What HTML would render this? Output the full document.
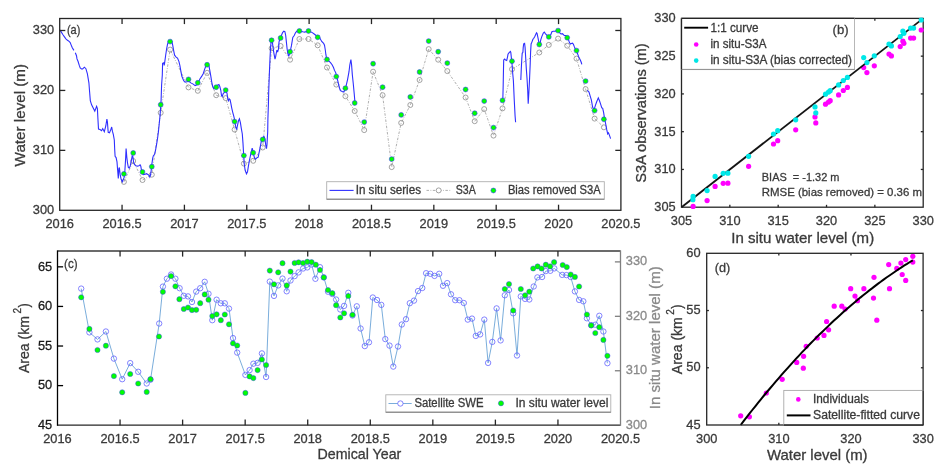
<!DOCTYPE html>
<html><head><meta charset="utf-8"><style>
html,body{margin:0;padding:0;background:#fff;overflow:hidden;width:947px;height:473px;}
svg{display:block;font-family:"Liberation Sans", sans-serif;will-change:transform;}
text{stroke-width:0.3px;}
</style></head><body>
<svg width="947" height="473" viewBox="0 0 947 473">
<rect width="947" height="473" fill="#fff"/>
<g id="pa">
<polyline points="123.9,181.9 133.2,161.0 142.5,180.0 151.8,174.7 160.7,112.8 170.1,49.6 188.5,87.4 197.8,90.8 207.1,72.8 216.2,95.2 225.7,98.1 234.6,129.6 243.9,163.6 253.2,160.8 262.7,147.5 271.6,48.3 280.6,46.0 290.1,59.7 299.4,39.0 308.5,39.0 317.7,45.3 327.0,67.5 336.3,84.6 345.4,96.2 354.7,111.0 364.2,130.1 373.1,71.7 382.6,95.2 391.7,167.1 401.2,122.9 410.3,105.0 419.6,80.0 428.7,49.1 438.2,59.7 447.3,71.1 465.6,97.5 474.7,121.2 484.2,109.1 493.5,135.6 502.5,108.4 512.0,69.2 539.3,52.5 548.8,44.9 558.1,38.6 567.2,45.7 576.5,58.6 585.6,89.1 594.6,118.6 603.9,127.3" fill="none" stroke="#9a9a9a" stroke-width="0.8" stroke-linejoin="miter" stroke-dasharray="2.5,1.5,0.8,1.5"/>
<circle cx="123.90" cy="181.90" r="2.5" fill="none" stroke="#8c8c8c" stroke-width="0.8"/>
<circle cx="133.20" cy="161.00" r="2.5" fill="none" stroke="#8c8c8c" stroke-width="0.8"/>
<circle cx="142.50" cy="180.00" r="2.5" fill="none" stroke="#8c8c8c" stroke-width="0.8"/>
<circle cx="151.80" cy="174.70" r="2.5" fill="none" stroke="#8c8c8c" stroke-width="0.8"/>
<circle cx="160.70" cy="112.80" r="2.5" fill="none" stroke="#8c8c8c" stroke-width="0.8"/>
<circle cx="170.10" cy="49.60" r="2.5" fill="none" stroke="#8c8c8c" stroke-width="0.8"/>
<circle cx="188.50" cy="87.40" r="2.5" fill="none" stroke="#8c8c8c" stroke-width="0.8"/>
<circle cx="197.80" cy="90.80" r="2.5" fill="none" stroke="#8c8c8c" stroke-width="0.8"/>
<circle cx="207.10" cy="72.80" r="2.5" fill="none" stroke="#8c8c8c" stroke-width="0.8"/>
<circle cx="216.20" cy="95.20" r="2.5" fill="none" stroke="#8c8c8c" stroke-width="0.8"/>
<circle cx="225.70" cy="98.10" r="2.5" fill="none" stroke="#8c8c8c" stroke-width="0.8"/>
<circle cx="234.60" cy="129.60" r="2.5" fill="none" stroke="#8c8c8c" stroke-width="0.8"/>
<circle cx="243.90" cy="163.60" r="2.5" fill="none" stroke="#8c8c8c" stroke-width="0.8"/>
<circle cx="253.20" cy="160.80" r="2.5" fill="none" stroke="#8c8c8c" stroke-width="0.8"/>
<circle cx="262.70" cy="147.50" r="2.5" fill="none" stroke="#8c8c8c" stroke-width="0.8"/>
<circle cx="271.60" cy="48.30" r="2.5" fill="none" stroke="#8c8c8c" stroke-width="0.8"/>
<circle cx="280.60" cy="46.00" r="2.5" fill="none" stroke="#8c8c8c" stroke-width="0.8"/>
<circle cx="290.10" cy="59.70" r="2.5" fill="none" stroke="#8c8c8c" stroke-width="0.8"/>
<circle cx="299.40" cy="39.00" r="2.5" fill="none" stroke="#8c8c8c" stroke-width="0.8"/>
<circle cx="308.50" cy="39.00" r="2.5" fill="none" stroke="#8c8c8c" stroke-width="0.8"/>
<circle cx="317.70" cy="45.30" r="2.5" fill="none" stroke="#8c8c8c" stroke-width="0.8"/>
<circle cx="327.00" cy="67.50" r="2.5" fill="none" stroke="#8c8c8c" stroke-width="0.8"/>
<circle cx="336.30" cy="84.60" r="2.5" fill="none" stroke="#8c8c8c" stroke-width="0.8"/>
<circle cx="345.40" cy="96.20" r="2.5" fill="none" stroke="#8c8c8c" stroke-width="0.8"/>
<circle cx="354.70" cy="111.00" r="2.5" fill="none" stroke="#8c8c8c" stroke-width="0.8"/>
<circle cx="364.20" cy="130.10" r="2.5" fill="none" stroke="#8c8c8c" stroke-width="0.8"/>
<circle cx="373.10" cy="71.70" r="2.5" fill="none" stroke="#8c8c8c" stroke-width="0.8"/>
<circle cx="382.60" cy="95.20" r="2.5" fill="none" stroke="#8c8c8c" stroke-width="0.8"/>
<circle cx="391.70" cy="167.10" r="2.5" fill="none" stroke="#8c8c8c" stroke-width="0.8"/>
<circle cx="401.20" cy="122.90" r="2.5" fill="none" stroke="#8c8c8c" stroke-width="0.8"/>
<circle cx="410.30" cy="105.00" r="2.5" fill="none" stroke="#8c8c8c" stroke-width="0.8"/>
<circle cx="419.60" cy="80.00" r="2.5" fill="none" stroke="#8c8c8c" stroke-width="0.8"/>
<circle cx="428.70" cy="49.10" r="2.5" fill="none" stroke="#8c8c8c" stroke-width="0.8"/>
<circle cx="438.20" cy="59.70" r="2.5" fill="none" stroke="#8c8c8c" stroke-width="0.8"/>
<circle cx="447.30" cy="71.10" r="2.5" fill="none" stroke="#8c8c8c" stroke-width="0.8"/>
<circle cx="465.60" cy="97.50" r="2.5" fill="none" stroke="#8c8c8c" stroke-width="0.8"/>
<circle cx="474.70" cy="121.20" r="2.5" fill="none" stroke="#8c8c8c" stroke-width="0.8"/>
<circle cx="484.20" cy="109.10" r="2.5" fill="none" stroke="#8c8c8c" stroke-width="0.8"/>
<circle cx="493.50" cy="135.60" r="2.5" fill="none" stroke="#8c8c8c" stroke-width="0.8"/>
<circle cx="502.50" cy="108.40" r="2.5" fill="none" stroke="#8c8c8c" stroke-width="0.8"/>
<circle cx="512.00" cy="69.20" r="2.5" fill="none" stroke="#8c8c8c" stroke-width="0.8"/>
<circle cx="539.30" cy="52.50" r="2.5" fill="none" stroke="#8c8c8c" stroke-width="0.8"/>
<circle cx="548.80" cy="44.90" r="2.5" fill="none" stroke="#8c8c8c" stroke-width="0.8"/>
<circle cx="558.10" cy="38.60" r="2.5" fill="none" stroke="#8c8c8c" stroke-width="0.8"/>
<circle cx="567.20" cy="45.70" r="2.5" fill="none" stroke="#8c8c8c" stroke-width="0.8"/>
<circle cx="576.50" cy="58.60" r="2.5" fill="none" stroke="#8c8c8c" stroke-width="0.8"/>
<circle cx="585.60" cy="89.10" r="2.5" fill="none" stroke="#8c8c8c" stroke-width="0.8"/>
<circle cx="594.60" cy="118.60" r="2.5" fill="none" stroke="#8c8c8c" stroke-width="0.8"/>
<circle cx="603.90" cy="127.30" r="2.5" fill="none" stroke="#8c8c8c" stroke-width="0.8"/>
<polyline points="59.8,30.0 61.2,31.9 62.8,34.5 64.3,36.6 65.9,38.8 67.5,40.3 69.1,41.4 70.2,42.5 71.2,45.1 72.3,47.8 73.9,50.4" fill="none" stroke="#2f2fff" stroke-width="1.1" stroke-linejoin="miter" stroke-miterlimit="3"/>
<polyline points="75.3,52.7 76.5,55.7 77.0,58.9 78.1,61.5 79.2,65.2 80.2,67.9 81.5,69.0 82.6,68.9 84.4,67.2 85.9,68.7 87.4,73.9 88.9,82.8 89.6,91.7 90.3,100.6 91.6,104.8 93.2,108.0 94.8,111.1 96.6,106.4 97.4,108.5 97.9,118.5 98.5,129.1 100.0,129.6 101.6,130.7 102.7,128.6 104.3,131.8 105.8,126.0 106.9,119.1 107.4,121.7 108.2,132.3 109.5,132.8 110.8,129.6 111.7,127.0 112.4,131.2 113.3,134.4 114.3,140.0 114.7,149.5 115.1,156.2 116.1,157.6 117.0,161.9 117.5,168.5 118.3,178.5 118.9,168.5 119.4,167.6 120.2,175.2 121.1,179.0 122.3,181.8 123.2,179.9 124.2,177.1 124.9,170.4 125.6,159.0 126.1,148.6 126.8,157.1 127.5,162.8 128.4,167.6 129.4,168.0 130.3,165.7 131.3,160.9 132.2,155.7 132.9,156.6 133.7,162.8 134.6,164.7 136.0,165.7 137.5,166.1 138.9,165.7 140.1,164.9 140.8,166.1 141.5,170.4 142.4,173.7 143.6,174.7 145.1,174.2 146.5,173.7 147.9,174.4 149.1,175.6 149.8,177.1 150.6,174.7 151.3,169.5 151.9,163.8 152.7,158.1 153.4,155.7 154.6,154.3 155.5,150.5 156.0,147.6 156.5,144.8 157.0,141.9 157.6,138.0 158.4,132.0 159.2,124.0 160.0,116.0 160.6,108.0 161.1,100.0 161.6,85.0 162.3,75.0 162.6,63.3 163.7,62.8 164.2,65.5 164.7,62.3 165.6,55.7 166.6,49.0 167.5,44.3 168.5,41.4 170.2,40.5 171.8,41.4 172.7,45.2 173.7,50.9 174.6,55.2 176.1,57.1 177.5,58.0 178.9,61.4 179.9,65.6 180.9,71.3 181.8,76.1 183.7,80.8 185.1,82.2 187.0,81.8 188.9,81.3 190.8,82.9 193.2,84.1 195.1,85.6 196.5,85.1 198.0,83.2 199.9,78.9 201.8,76.1 203.2,73.7 204.6,69.4 206.0,65.6 207.5,64.2 208.9,65.6 209.8,70.4 210.8,76.1 211.7,81.8 212.7,86.5 213.6,88.4 215.1,87.5 216.5,86.0 217.9,85.1 218.9,84.6 219.8,86.5 220.8,90.3 221.5,95.5 222.2,96.5 223.2,93.6 224.6,92.2 226.0,91.7 227.0,93.2 227.6,97.9 228.4,100.8 229.3,98.9 230.1,99.8 230.9,103.6 231.8,108.3 232.8,112.6 233.7,115.9 234.7,120.2 235.6,126.4 236.6,129.7 237.5,125.4 238.5,120.7 239.4,118.8 240.4,122.6 241.3,128.3 242.3,134.0 243.0,143.4 243.7,155.8 244.3,164.3 245.1,170.0 246.5,173.8 247.5,171.9 248.4,166.2 249.4,160.5 250.8,153.9 252.2,148.2 252.9,151.0 253.7,154.8 254.6,158.1 255.6,159.1 257.0,157.7 258.2,157.2 259.4,151.0 260.3,146.3 261.3,141.5 262.7,139.1 263.9,136.3 264.9,138.7 265.8,145.3 266.5,148.6 267.0,144.4 267.4,136.8 267.7,132.0 267.9,118.8 268.4,104.5 268.7,92.0 269.5,70.0 270.0,58.3 270.6,46.9 271.2,41.2 271.9,40.2 272.5,43.1 273.3,49.7 274.3,55.4 275.0,59.2 275.7,56.4 276.2,53.5 276.9,50.2 277.6,52.1 278.5,48.8 279.0,42.1 280.0,38.3 281.4,35.5 282.6,32.6 283.8,31.2 284.9,31.7 285.7,35.5 286.4,42.1 287.1,48.8 287.8,53.5 288.7,56.4 289.9,52.6 291.4,45.9 292.8,37.4 294.2,35.5 295.6,32.6 297.1,30.9 299.0,30.5 300.9,31.2 302.8,31.8 304.7,32.1 306.6,31.5 308.5,30.9 310.4,31.7 312.3,32.6 314.2,34.0 316.1,35.5 318.0,36.9 320.0,38.3 321.7,41.4 323.6,43.3 324.5,45.2 325.3,50.0 325.9,54.7 326.6,58.5 327.8,60.4 329.3,61.4 330.7,62.8 332.1,64.7 333.5,67.5 334.5,70.4 335.7,72.6 336.6,76.4 337.6,80.2 338.5,84.0 339.5,87.8 340.4,90.7 342.3,91.6 343.8,92.1 344.9,89.7 346.1,85.9 347.6,79.3 349.0,71.7 349.8,65.0 350.9,59.5 351.6,65.0 352.3,74.5 353.3,84.0 354.2,93.5 355.0,103.0" fill="none" stroke="#2f2fff" stroke-width="1.1" stroke-linejoin="miter" stroke-miterlimit="3"/>
<polyline points="502.8,100.4 503.2,85.0 503.5,68.5 503.7,60.0 504.7,59.0 505.6,60.0 506.7,60.4 507.5,57.1 508.0,54.3 508.6,53.3 509.4,52.4 510.4,51.4 510.8,52.4 511.3,57.1 512.1,64.7 512.7,73.3 513.4,80.9 514.2,99.0 515.1,116.1 515.6,122.3" fill="none" stroke="#2f2fff" stroke-width="1.1" stroke-linejoin="miter" stroke-miterlimit="3"/>
<polyline points="520.8,80.0 521.3,68.5 521.8,59.0 522.2,53.3 522.9,52.4 523.2,47.6 523.7,43.8 524.6,43.3 525.1,47.6 525.6,56.2 526.3,68.5 527.0,78.0 527.7,90.0 528.2,103.8 528.9,92.0 529.6,78.0 530.2,64.0 530.6,52.0 531.1,44.0 531.9,42.1 532.9,39.3 533.8,38.3 534.8,36.4 535.7,34.5 536.5,32.8 537.1,33.6 538.1,38.3 539.0,43.1 540.0,43.1 540.9,39.3 541.9,36.4 543.3,33.1 544.3,32.1 545.4,33.6 546.6,35.0 548.1,35.9 549.5,35.9 550.9,34.5 551.9,31.7 553.3,31.2 555.2,31.2 556.6,30.7 558.0,30.9 559.5,32.6 560.9,34.0 562.3,33.6 563.3,34.5 564.2,35.5 565.6,35.5 567.1,36.4 568.0,38.3 568.8,40.7 569.4,42.6 570.4,44.0 571.3,43.5 572.6,43.1 573.5,44.5 574.2,46.4 575.2,48.8 576.6,51.1 577.5,53.5 578.5,56.4 579.4,58.3 580.4,60.2 581.3,62.5 581.8,64.3" fill="none" stroke="#2f2fff" stroke-width="1.1" stroke-linejoin="miter" stroke-miterlimit="3"/>
<polyline points="587.3,90.3 589.0,92.1 590.2,96.1 591.4,100.2 592.6,107.0 594.0,110.0 595.4,105.4 596.6,102.0 598.3,97.9 599.5,100.8 600.7,104.3 601.8,107.8 602.7,108.3 603.6,112.4 604.5,118.2 605.7,124.0 606.8,129.9 607.7,133.9 608.5,132.8 609.4,135.1 610.6,138.6" fill="none" stroke="#2f2fff" stroke-width="1.1" stroke-linejoin="miter" stroke-miterlimit="3"/>
<circle cx="123.90" cy="173.90" r="2.45" fill="#00ff00" stroke="#3030ff" stroke-width="0.55"/>
<circle cx="133.20" cy="153.00" r="2.45" fill="#00ff00" stroke="#3030ff" stroke-width="0.55"/>
<circle cx="142.50" cy="172.00" r="2.45" fill="#00ff00" stroke="#3030ff" stroke-width="0.55"/>
<circle cx="151.80" cy="166.70" r="2.45" fill="#00ff00" stroke="#3030ff" stroke-width="0.55"/>
<circle cx="160.70" cy="104.80" r="2.45" fill="#00ff00" stroke="#3030ff" stroke-width="0.55"/>
<circle cx="170.10" cy="41.60" r="2.45" fill="#00ff00" stroke="#3030ff" stroke-width="0.55"/>
<circle cx="188.50" cy="79.40" r="2.45" fill="#00ff00" stroke="#3030ff" stroke-width="0.55"/>
<circle cx="197.80" cy="82.80" r="2.45" fill="#00ff00" stroke="#3030ff" stroke-width="0.55"/>
<circle cx="207.10" cy="64.80" r="2.45" fill="#00ff00" stroke="#3030ff" stroke-width="0.55"/>
<circle cx="216.20" cy="87.20" r="2.45" fill="#00ff00" stroke="#3030ff" stroke-width="0.55"/>
<circle cx="225.70" cy="90.10" r="2.45" fill="#00ff00" stroke="#3030ff" stroke-width="0.55"/>
<circle cx="234.60" cy="121.60" r="2.45" fill="#00ff00" stroke="#3030ff" stroke-width="0.55"/>
<circle cx="243.90" cy="155.60" r="2.45" fill="#00ff00" stroke="#3030ff" stroke-width="0.55"/>
<circle cx="253.20" cy="152.80" r="2.45" fill="#00ff00" stroke="#3030ff" stroke-width="0.55"/>
<circle cx="262.70" cy="139.50" r="2.45" fill="#00ff00" stroke="#3030ff" stroke-width="0.55"/>
<circle cx="271.60" cy="40.30" r="2.45" fill="#00ff00" stroke="#3030ff" stroke-width="0.55"/>
<circle cx="280.60" cy="38.00" r="2.45" fill="#00ff00" stroke="#3030ff" stroke-width="0.55"/>
<circle cx="290.10" cy="51.70" r="2.45" fill="#00ff00" stroke="#3030ff" stroke-width="0.55"/>
<circle cx="299.40" cy="31.00" r="2.45" fill="#00ff00" stroke="#3030ff" stroke-width="0.55"/>
<circle cx="308.50" cy="31.00" r="2.45" fill="#00ff00" stroke="#3030ff" stroke-width="0.55"/>
<circle cx="317.70" cy="37.30" r="2.45" fill="#00ff00" stroke="#3030ff" stroke-width="0.55"/>
<circle cx="327.00" cy="59.50" r="2.45" fill="#00ff00" stroke="#3030ff" stroke-width="0.55"/>
<circle cx="336.30" cy="76.60" r="2.45" fill="#00ff00" stroke="#3030ff" stroke-width="0.55"/>
<circle cx="345.40" cy="88.20" r="2.45" fill="#00ff00" stroke="#3030ff" stroke-width="0.55"/>
<circle cx="354.70" cy="103.00" r="2.45" fill="#00ff00" stroke="#3030ff" stroke-width="0.55"/>
<circle cx="364.20" cy="122.10" r="2.45" fill="#00ff00" stroke="#3030ff" stroke-width="0.55"/>
<circle cx="373.10" cy="63.70" r="2.45" fill="#00ff00" stroke="#3030ff" stroke-width="0.55"/>
<circle cx="382.60" cy="87.20" r="2.45" fill="#00ff00" stroke="#3030ff" stroke-width="0.55"/>
<circle cx="391.70" cy="159.10" r="2.45" fill="#00ff00" stroke="#3030ff" stroke-width="0.55"/>
<circle cx="401.20" cy="114.90" r="2.45" fill="#00ff00" stroke="#3030ff" stroke-width="0.55"/>
<circle cx="410.30" cy="97.00" r="2.45" fill="#00ff00" stroke="#3030ff" stroke-width="0.55"/>
<circle cx="419.60" cy="72.00" r="2.45" fill="#00ff00" stroke="#3030ff" stroke-width="0.55"/>
<circle cx="428.70" cy="41.10" r="2.45" fill="#00ff00" stroke="#3030ff" stroke-width="0.55"/>
<circle cx="438.20" cy="51.70" r="2.45" fill="#00ff00" stroke="#3030ff" stroke-width="0.55"/>
<circle cx="447.30" cy="63.10" r="2.45" fill="#00ff00" stroke="#3030ff" stroke-width="0.55"/>
<circle cx="465.60" cy="89.50" r="2.45" fill="#00ff00" stroke="#3030ff" stroke-width="0.55"/>
<circle cx="474.70" cy="113.20" r="2.45" fill="#00ff00" stroke="#3030ff" stroke-width="0.55"/>
<circle cx="484.20" cy="101.10" r="2.45" fill="#00ff00" stroke="#3030ff" stroke-width="0.55"/>
<circle cx="493.50" cy="127.60" r="2.45" fill="#00ff00" stroke="#3030ff" stroke-width="0.55"/>
<circle cx="502.50" cy="100.40" r="2.45" fill="#00ff00" stroke="#3030ff" stroke-width="0.55"/>
<circle cx="512.00" cy="61.20" r="2.45" fill="#00ff00" stroke="#3030ff" stroke-width="0.55"/>
<circle cx="539.30" cy="44.50" r="2.45" fill="#00ff00" stroke="#3030ff" stroke-width="0.55"/>
<circle cx="548.80" cy="36.90" r="2.45" fill="#00ff00" stroke="#3030ff" stroke-width="0.55"/>
<circle cx="558.10" cy="30.60" r="2.45" fill="#00ff00" stroke="#3030ff" stroke-width="0.55"/>
<circle cx="567.20" cy="37.70" r="2.45" fill="#00ff00" stroke="#3030ff" stroke-width="0.55"/>
<circle cx="576.50" cy="50.60" r="2.45" fill="#00ff00" stroke="#3030ff" stroke-width="0.55"/>
<circle cx="585.60" cy="81.10" r="2.45" fill="#00ff00" stroke="#3030ff" stroke-width="0.55"/>
<circle cx="594.60" cy="110.60" r="2.45" fill="#00ff00" stroke="#3030ff" stroke-width="0.55"/>
<circle cx="603.90" cy="119.30" r="2.45" fill="#00ff00" stroke="#3030ff" stroke-width="0.55"/>
</g>
<rect x="59.70" y="18.50" width="561.20" height="191.80" fill="none" stroke="#262626" stroke-width="1.3"/>
<text x="59.70" y="227.80" font-size="13.7" text-anchor="middle" fill="#3a3a3a" stroke="#3a3a3a" textLength="28.5" lengthAdjust="spacingAndGlyphs">2016</text>
<line x1="122.06" y1="210.30" x2="122.06" y2="204.70" stroke="#262626" stroke-width="1.3"/>
<line x1="122.06" y1="18.50" x2="122.06" y2="24.10" stroke="#262626" stroke-width="1.3"/>
<text x="122.06" y="227.80" font-size="13.7" text-anchor="middle" fill="#3a3a3a" stroke="#3a3a3a" textLength="39.2" lengthAdjust="spacingAndGlyphs">2016.5</text>
<line x1="184.41" y1="210.30" x2="184.41" y2="204.70" stroke="#262626" stroke-width="1.3"/>
<line x1="184.41" y1="18.50" x2="184.41" y2="24.10" stroke="#262626" stroke-width="1.3"/>
<text x="184.41" y="227.80" font-size="13.7" text-anchor="middle" fill="#3a3a3a" stroke="#3a3a3a" textLength="28.5" lengthAdjust="spacingAndGlyphs">2017</text>
<line x1="246.77" y1="210.30" x2="246.77" y2="204.70" stroke="#262626" stroke-width="1.3"/>
<line x1="246.77" y1="18.50" x2="246.77" y2="24.10" stroke="#262626" stroke-width="1.3"/>
<text x="246.77" y="227.80" font-size="13.7" text-anchor="middle" fill="#3a3a3a" stroke="#3a3a3a" textLength="39.2" lengthAdjust="spacingAndGlyphs">2017.5</text>
<line x1="309.12" y1="210.30" x2="309.12" y2="204.70" stroke="#262626" stroke-width="1.3"/>
<line x1="309.12" y1="18.50" x2="309.12" y2="24.10" stroke="#262626" stroke-width="1.3"/>
<text x="309.12" y="227.80" font-size="13.7" text-anchor="middle" fill="#3a3a3a" stroke="#3a3a3a" textLength="28.5" lengthAdjust="spacingAndGlyphs">2018</text>
<line x1="371.48" y1="210.30" x2="371.48" y2="204.70" stroke="#262626" stroke-width="1.3"/>
<line x1="371.48" y1="18.50" x2="371.48" y2="24.10" stroke="#262626" stroke-width="1.3"/>
<text x="371.48" y="227.80" font-size="13.7" text-anchor="middle" fill="#3a3a3a" stroke="#3a3a3a" textLength="39.2" lengthAdjust="spacingAndGlyphs">2018.5</text>
<line x1="433.83" y1="210.30" x2="433.83" y2="204.70" stroke="#262626" stroke-width="1.3"/>
<line x1="433.83" y1="18.50" x2="433.83" y2="24.10" stroke="#262626" stroke-width="1.3"/>
<text x="433.83" y="227.80" font-size="13.7" text-anchor="middle" fill="#3a3a3a" stroke="#3a3a3a" textLength="28.5" lengthAdjust="spacingAndGlyphs">2019</text>
<line x1="496.19" y1="210.30" x2="496.19" y2="204.70" stroke="#262626" stroke-width="1.3"/>
<line x1="496.19" y1="18.50" x2="496.19" y2="24.10" stroke="#262626" stroke-width="1.3"/>
<text x="496.19" y="227.80" font-size="13.7" text-anchor="middle" fill="#3a3a3a" stroke="#3a3a3a" textLength="39.2" lengthAdjust="spacingAndGlyphs">2019.5</text>
<line x1="558.54" y1="210.30" x2="558.54" y2="204.70" stroke="#262626" stroke-width="1.3"/>
<line x1="558.54" y1="18.50" x2="558.54" y2="24.10" stroke="#262626" stroke-width="1.3"/>
<text x="558.54" y="227.80" font-size="13.7" text-anchor="middle" fill="#3a3a3a" stroke="#3a3a3a" textLength="28.5" lengthAdjust="spacingAndGlyphs">2020</text>
<text x="620.90" y="227.80" font-size="13.7" text-anchor="middle" fill="#3a3a3a" stroke="#3a3a3a" textLength="39.2" lengthAdjust="spacingAndGlyphs">2020.5</text>
<text x="54.20" y="214.10" font-size="13.7" text-anchor="end" fill="#3a3a3a" stroke="#3a3a3a" textLength="21.4" lengthAdjust="spacingAndGlyphs">300</text>
<line x1="59.70" y1="150.36" x2="65.30" y2="150.36" stroke="#262626" stroke-width="1.3"/>
<line x1="620.90" y1="150.36" x2="615.30" y2="150.36" stroke="#262626" stroke-width="1.3"/>
<text x="54.20" y="154.16" font-size="13.7" text-anchor="end" fill="#3a3a3a" stroke="#3a3a3a" textLength="21.4" lengthAdjust="spacingAndGlyphs">310</text>
<line x1="59.70" y1="90.43" x2="65.30" y2="90.43" stroke="#262626" stroke-width="1.3"/>
<line x1="620.90" y1="90.43" x2="615.30" y2="90.43" stroke="#262626" stroke-width="1.3"/>
<text x="54.20" y="94.23" font-size="13.7" text-anchor="end" fill="#3a3a3a" stroke="#3a3a3a" textLength="21.4" lengthAdjust="spacingAndGlyphs">320</text>
<line x1="59.70" y1="30.49" x2="65.30" y2="30.49" stroke="#262626" stroke-width="1.3"/>
<line x1="620.90" y1="30.49" x2="615.30" y2="30.49" stroke="#262626" stroke-width="1.3"/>
<text x="54.20" y="34.29" font-size="13.7" text-anchor="end" fill="#3a3a3a" stroke="#3a3a3a" textLength="21.4" lengthAdjust="spacingAndGlyphs">330</text>
<text transform="translate(24.80,115.15) rotate(-90)" font-size="14.5" text-anchor="middle" fill="#3a3a3a" stroke="#3a3a3a" textLength="102.5" lengthAdjust="spacingAndGlyphs">Water level (m)</text>
<text x="66.90" y="34.30" font-size="13.4" text-anchor="start" fill="#3a3a3a" stroke="#3a3a3a" textLength="13.4" lengthAdjust="spacingAndGlyphs">(a)</text>
<rect x="326.7" y="181.7" width="277.6" height="17.5" fill="#fff" stroke="#b0b0b0" stroke-width="0.9"/>
<line x1="326.70" y1="199.20" x2="604.30" y2="199.20" stroke="#707070" stroke-width="0.9"/>
<line x1="329.50" y1="190.40" x2="353.60" y2="190.40" stroke="#2f2fff" stroke-width="1.1"/>
<text x="355.70" y="193.70" font-size="12" text-anchor="start" fill="#3a3a3a" stroke="#3a3a3a" textLength="65.3" lengthAdjust="spacingAndGlyphs">In situ series</text>
<line x1="426.50" y1="190.40" x2="451.00" y2="190.40" stroke="#9a9a9a" stroke-width="0.8" stroke-dasharray="2.5,1.5,0.8,1.5"/>
<circle cx="438.70" cy="190.40" r="2.5" fill="#fff" stroke="#8c8c8c" stroke-width="0.8"/>
<text x="455.70" y="193.70" font-size="12" text-anchor="start" fill="#3a3a3a" stroke="#3a3a3a" textLength="20.0" lengthAdjust="spacingAndGlyphs">S3A</text>
<circle cx="493.40" cy="190.50" r="2.45" fill="#00ff00" stroke="#3030ff" stroke-width="0.55"/>
<text x="507.90" y="193.70" font-size="12" text-anchor="start" fill="#3a3a3a" stroke="#3a3a3a" textLength="92.9" lengthAdjust="spacingAndGlyphs">Bias removed S3A</text>
<rect x="681.50" y="18.40" width="241.70" height="188.80" fill="none" stroke="#262626" stroke-width="1.3"/>
<circle cx="693.10" cy="206.40" r="2.6" fill="#ff00ff" stroke="none" stroke-width="0"/>
<circle cx="707.10" cy="200.60" r="2.6" fill="#ff00ff" stroke="none" stroke-width="0"/>
<circle cx="715.10" cy="186.40" r="2.6" fill="#ff00ff" stroke="none" stroke-width="0"/>
<circle cx="723.20" cy="183.30" r="2.6" fill="#ff00ff" stroke="none" stroke-width="0"/>
<circle cx="727.90" cy="183.20" r="2.6" fill="#ff00ff" stroke="none" stroke-width="0"/>
<circle cx="748.60" cy="166.30" r="2.6" fill="#ff00ff" stroke="none" stroke-width="0"/>
<circle cx="773.50" cy="144.00" r="2.6" fill="#ff00ff" stroke="none" stroke-width="0"/>
<circle cx="777.70" cy="140.70" r="2.6" fill="#ff00ff" stroke="none" stroke-width="0"/>
<circle cx="795.70" cy="129.80" r="2.6" fill="#ff00ff" stroke="none" stroke-width="0"/>
<circle cx="815.00" cy="116.90" r="2.6" fill="#ff00ff" stroke="none" stroke-width="0"/>
<circle cx="815.80" cy="122.90" r="2.6" fill="#ff00ff" stroke="none" stroke-width="0"/>
<circle cx="825.50" cy="104.20" r="2.6" fill="#ff00ff" stroke="none" stroke-width="0"/>
<circle cx="828.50" cy="102.10" r="2.6" fill="#ff00ff" stroke="none" stroke-width="0"/>
<circle cx="830.20" cy="100.70" r="2.6" fill="#ff00ff" stroke="none" stroke-width="0"/>
<circle cx="838.60" cy="94.90" r="2.6" fill="#ff00ff" stroke="none" stroke-width="0"/>
<circle cx="843.30" cy="90.50" r="2.6" fill="#ff00ff" stroke="none" stroke-width="0"/>
<circle cx="847.40" cy="87.40" r="2.6" fill="#ff00ff" stroke="none" stroke-width="0"/>
<circle cx="863.70" cy="67.60" r="2.6" fill="#ff00ff" stroke="none" stroke-width="0"/>
<circle cx="866.90" cy="72.60" r="2.6" fill="#ff00ff" stroke="none" stroke-width="0"/>
<circle cx="874.30" cy="65.80" r="2.6" fill="#ff00ff" stroke="none" stroke-width="0"/>
<circle cx="889.00" cy="54.10" r="2.6" fill="#ff00ff" stroke="none" stroke-width="0"/>
<circle cx="891.40" cy="55.90" r="2.6" fill="#ff00ff" stroke="none" stroke-width="0"/>
<circle cx="900.20" cy="46.60" r="2.6" fill="#ff00ff" stroke="none" stroke-width="0"/>
<circle cx="902.90" cy="41.20" r="2.6" fill="#ff00ff" stroke="none" stroke-width="0"/>
<circle cx="903.90" cy="43.30" r="2.6" fill="#ff00ff" stroke="none" stroke-width="0"/>
<circle cx="910.60" cy="38.10" r="2.6" fill="#ff00ff" stroke="none" stroke-width="0"/>
<circle cx="913.60" cy="38.10" r="2.6" fill="#ff00ff" stroke="none" stroke-width="0"/>
<circle cx="921.20" cy="30.00" r="2.6" fill="#ff00ff" stroke="none" stroke-width="0"/>
<line x1="681.50" y1="207.20" x2="923.20" y2="18.40" stroke="#141414" stroke-width="1.8"/>
<circle cx="693.10" cy="196.40" r="2.6" fill="#00e8e8" stroke="none" stroke-width="0"/>
<circle cx="692.90" cy="199.70" r="2.6" fill="#00e8e8" stroke="none" stroke-width="0"/>
<circle cx="707.10" cy="190.60" r="2.6" fill="#00e8e8" stroke="none" stroke-width="0"/>
<circle cx="715.10" cy="176.40" r="2.6" fill="#00e8e8" stroke="none" stroke-width="0"/>
<circle cx="723.20" cy="173.30" r="2.6" fill="#00e8e8" stroke="none" stroke-width="0"/>
<circle cx="727.90" cy="173.20" r="2.6" fill="#00e8e8" stroke="none" stroke-width="0"/>
<circle cx="748.60" cy="156.30" r="2.6" fill="#00e8e8" stroke="none" stroke-width="0"/>
<circle cx="773.50" cy="134.00" r="2.6" fill="#00e8e8" stroke="none" stroke-width="0"/>
<circle cx="777.70" cy="130.70" r="2.6" fill="#00e8e8" stroke="none" stroke-width="0"/>
<circle cx="795.70" cy="119.80" r="2.6" fill="#00e8e8" stroke="none" stroke-width="0"/>
<circle cx="815.00" cy="106.90" r="2.6" fill="#00e8e8" stroke="none" stroke-width="0"/>
<circle cx="815.80" cy="112.90" r="2.6" fill="#00e8e8" stroke="none" stroke-width="0"/>
<circle cx="825.50" cy="94.20" r="2.6" fill="#00e8e8" stroke="none" stroke-width="0"/>
<circle cx="828.50" cy="92.10" r="2.6" fill="#00e8e8" stroke="none" stroke-width="0"/>
<circle cx="830.20" cy="90.70" r="2.6" fill="#00e8e8" stroke="none" stroke-width="0"/>
<circle cx="838.60" cy="84.90" r="2.6" fill="#00e8e8" stroke="none" stroke-width="0"/>
<circle cx="843.30" cy="80.50" r="2.6" fill="#00e8e8" stroke="none" stroke-width="0"/>
<circle cx="847.40" cy="77.40" r="2.6" fill="#00e8e8" stroke="none" stroke-width="0"/>
<circle cx="863.70" cy="57.60" r="2.6" fill="#00e8e8" stroke="none" stroke-width="0"/>
<circle cx="866.90" cy="62.60" r="2.6" fill="#00e8e8" stroke="none" stroke-width="0"/>
<circle cx="874.30" cy="55.80" r="2.6" fill="#00e8e8" stroke="none" stroke-width="0"/>
<circle cx="889.00" cy="44.10" r="2.6" fill="#00e8e8" stroke="none" stroke-width="0"/>
<circle cx="891.40" cy="45.90" r="2.6" fill="#00e8e8" stroke="none" stroke-width="0"/>
<circle cx="900.20" cy="36.60" r="2.6" fill="#00e8e8" stroke="none" stroke-width="0"/>
<circle cx="902.90" cy="31.20" r="2.6" fill="#00e8e8" stroke="none" stroke-width="0"/>
<circle cx="903.90" cy="33.30" r="2.6" fill="#00e8e8" stroke="none" stroke-width="0"/>
<circle cx="910.60" cy="28.10" r="2.6" fill="#00e8e8" stroke="none" stroke-width="0"/>
<circle cx="913.60" cy="28.10" r="2.6" fill="#00e8e8" stroke="none" stroke-width="0"/>
<circle cx="921.20" cy="20.00" r="2.6" fill="#00e8e8" stroke="none" stroke-width="0"/>
<text x="681.50" y="224.80" font-size="13.7" text-anchor="middle" fill="#3a3a3a" stroke="#3a3a3a" textLength="21.4" lengthAdjust="spacingAndGlyphs">305</text>
<text x="675.70" y="211.20" font-size="13.7" text-anchor="end" fill="#3a3a3a" stroke="#3a3a3a" textLength="21.4" lengthAdjust="spacingAndGlyphs">305</text>
<line x1="729.84" y1="207.20" x2="729.84" y2="204.80" stroke="#262626" stroke-width="1.3"/>
<line x1="729.84" y1="18.40" x2="729.84" y2="20.80" stroke="#262626" stroke-width="1.3"/>
<line x1="681.50" y1="169.44" x2="683.90" y2="169.44" stroke="#262626" stroke-width="1.3"/>
<line x1="923.20" y1="169.44" x2="920.80" y2="169.44" stroke="#262626" stroke-width="1.3"/>
<text x="729.84" y="224.80" font-size="13.7" text-anchor="middle" fill="#3a3a3a" stroke="#3a3a3a" textLength="21.4" lengthAdjust="spacingAndGlyphs">310</text>
<text x="675.70" y="173.44" font-size="13.7" text-anchor="end" fill="#3a3a3a" stroke="#3a3a3a" textLength="21.4" lengthAdjust="spacingAndGlyphs">310</text>
<line x1="778.18" y1="207.20" x2="778.18" y2="204.80" stroke="#262626" stroke-width="1.3"/>
<line x1="778.18" y1="18.40" x2="778.18" y2="20.80" stroke="#262626" stroke-width="1.3"/>
<line x1="681.50" y1="131.68" x2="683.90" y2="131.68" stroke="#262626" stroke-width="1.3"/>
<line x1="923.20" y1="131.68" x2="920.80" y2="131.68" stroke="#262626" stroke-width="1.3"/>
<text x="778.18" y="224.80" font-size="13.7" text-anchor="middle" fill="#3a3a3a" stroke="#3a3a3a" textLength="21.4" lengthAdjust="spacingAndGlyphs">315</text>
<text x="675.70" y="135.68" font-size="13.7" text-anchor="end" fill="#3a3a3a" stroke="#3a3a3a" textLength="21.4" lengthAdjust="spacingAndGlyphs">315</text>
<line x1="826.52" y1="207.20" x2="826.52" y2="204.80" stroke="#262626" stroke-width="1.3"/>
<line x1="826.52" y1="18.40" x2="826.52" y2="20.80" stroke="#262626" stroke-width="1.3"/>
<line x1="681.50" y1="93.92" x2="683.90" y2="93.92" stroke="#262626" stroke-width="1.3"/>
<line x1="923.20" y1="93.92" x2="920.80" y2="93.92" stroke="#262626" stroke-width="1.3"/>
<text x="826.52" y="224.80" font-size="13.7" text-anchor="middle" fill="#3a3a3a" stroke="#3a3a3a" textLength="21.4" lengthAdjust="spacingAndGlyphs">320</text>
<text x="675.70" y="97.92" font-size="13.7" text-anchor="end" fill="#3a3a3a" stroke="#3a3a3a" textLength="21.4" lengthAdjust="spacingAndGlyphs">320</text>
<line x1="874.86" y1="207.20" x2="874.86" y2="204.80" stroke="#262626" stroke-width="1.3"/>
<line x1="874.86" y1="18.40" x2="874.86" y2="20.80" stroke="#262626" stroke-width="1.3"/>
<line x1="681.50" y1="56.16" x2="683.90" y2="56.16" stroke="#262626" stroke-width="1.3"/>
<line x1="923.20" y1="56.16" x2="920.80" y2="56.16" stroke="#262626" stroke-width="1.3"/>
<text x="874.86" y="224.80" font-size="13.7" text-anchor="middle" fill="#3a3a3a" stroke="#3a3a3a" textLength="21.4" lengthAdjust="spacingAndGlyphs">325</text>
<text x="675.70" y="60.16" font-size="13.7" text-anchor="end" fill="#3a3a3a" stroke="#3a3a3a" textLength="21.4" lengthAdjust="spacingAndGlyphs">325</text>
<text x="923.20" y="224.80" font-size="13.7" text-anchor="middle" fill="#3a3a3a" stroke="#3a3a3a" textLength="21.4" lengthAdjust="spacingAndGlyphs">330</text>
<text x="675.70" y="22.40" font-size="13.7" text-anchor="end" fill="#3a3a3a" stroke="#3a3a3a" textLength="21.4" lengthAdjust="spacingAndGlyphs">330</text>
<text transform="translate(645.90,113.05) rotate(-90)" font-size="14.8" text-anchor="middle" fill="#3a3a3a" stroke="#3a3a3a" textLength="139.3" lengthAdjust="spacingAndGlyphs">S3A observations (m)</text>
<text x="802.70" y="242.50" font-size="14.5" text-anchor="middle" fill="#3a3a3a" stroke="#3a3a3a" textLength="142.9" lengthAdjust="spacingAndGlyphs">In situ water level (m)</text>
<rect x="681.5" y="18.4" width="173.0" height="51.2" fill="#fff" stroke="#b0b0b0" stroke-width="0.9"/>
<line x1="681.50" y1="69.40" x2="854.60" y2="69.40" stroke="#8c8c8c" stroke-width="0.9"/>
<line x1="681.50" y1="18.40" x2="854.50" y2="18.40" stroke="#262626" stroke-width="1.3"/>
<line x1="681.50" y1="18.40" x2="681.50" y2="69.60" stroke="#262626" stroke-width="1.3"/>
<line x1="684.20" y1="27.70" x2="708.10" y2="27.70" stroke="#000" stroke-width="1.9"/>
<text x="710.40" y="31.70" font-size="12" text-anchor="start" fill="#3a3a3a" stroke="#3a3a3a" textLength="48.1" lengthAdjust="spacingAndGlyphs">1:1 curve</text>
<circle cx="696.20" cy="44.50" r="2.3" fill="#ff00ff" stroke="none" stroke-width="0"/>
<text x="710.40" y="47.70" font-size="12" text-anchor="start" fill="#3a3a3a" stroke="#3a3a3a" textLength="56.1" lengthAdjust="spacingAndGlyphs">in situ-S3A</text>
<circle cx="696.20" cy="60.60" r="2.3" fill="#00e6e6" stroke="none" stroke-width="0"/>
<text x="710.40" y="64.00" font-size="12" text-anchor="start" fill="#3a3a3a" stroke="#3a3a3a" textLength="141.6" lengthAdjust="spacingAndGlyphs">in situ-S3A (bias corrected)</text>
<text x="832.60" y="34.10" font-size="13.4" text-anchor="start" fill="#3a3a3a" stroke="#3a3a3a" textLength="16.0" lengthAdjust="spacingAndGlyphs">(b)</text>
<text x="761.80" y="180.60" font-size="11.8" text-anchor="start" fill="#3a3a3a" stroke="#3a3a3a" textLength="77.6" lengthAdjust="spacingAndGlyphs" xml:space="preserve">BIAS  = -1.32 m</text>
<text x="761.80" y="196.40" font-size="11.8" text-anchor="start" fill="#3a3a3a" stroke="#3a3a3a" textLength="160.2" lengthAdjust="spacingAndGlyphs">RMSE (bias removed) = 0.36 m</text>
<polyline points="81.2,288.6 89.4,332.4 97.5,339.4 105.9,331.5 113.9,358.6 122.2,379.2 130.2,363.1 138.2,371.8 146.7,383.5 150.5,379.7 159.2,323.5 162.9,286.6 166.9,278.7 171.1,274.5 175.4,278.7 179.6,288.2 183.8,295.8 188.0,296.4 192.0,302.0 196.2,291.6 200.2,288.2 204.7,281.8 208.5,293.8 212.3,320.2 216.6,299.7 220.8,303.3 224.8,303.3 229.0,308.6 233.0,338.1 237.2,352.6 245.4,374.9 249.6,370.1 253.4,363.7 257.6,362.9 261.9,353.4 266.1,377.0 269.8,281.6 274.0,295.9 278.2,285.4 282.5,278.6 286.7,291.3 290.5,280.5 294.6,276.1 298.6,272.4 303.1,268.5 307.3,267.4 311.6,264.5 315.4,278.8 320.0,267.2 323.8,277.4 328.0,291.7 332.3,294.0 336.1,299.5 340.3,309.5 344.1,305.9 348.3,292.8 352.5,315.5 356.8,306.3 360.6,328.5 364.8,346.1 369.0,342.3 372.8,297.5 377.0,300.0 381.3,304.9 385.3,339.1 389.5,345.6 393.3,366.6 398.0,346.5 401.8,324.5 406.0,319.2 409.8,303.2 414.0,300.6 418.0,291.1 422.3,288.0 426.1,273.2 430.3,273.8 434.5,275.9 439.2,273.8 443.0,285.8 447.2,283.1 451.0,294.3 455.2,300.2 459.4,300.2 463.8,303.0 467.8,319.6 472.0,318.6 475.8,335.9 480.1,334.4 484.3,319.6 488.1,362.9 492.3,341.9 496.6,308.4 500.6,340.4 504.8,295.3 509.0,290.0 513.2,313.3 517.0,355.5 520.8,296.4 525.1,298.9 529.3,299.5 533.7,286.5 537.4,277.4 542.1,277.0 545.8,271.1 550.3,270.8 554.3,268.4 562.2,274.9 566.4,275.1 570.7,277.0 574.9,291.4 579.1,299.9 583.3,301.3 586.9,318.3 591.2,325.2 595.3,324.7 599.3,315.8 603.4,331.5 607.4,363.2" fill="none" stroke="#5898d2" stroke-width="0.8" stroke-linejoin="miter"/>
<circle cx="81.20" cy="288.60" r="2.7" fill="none" stroke="#6464ff" stroke-width="0.8"/>
<circle cx="89.40" cy="332.40" r="2.7" fill="none" stroke="#6464ff" stroke-width="0.8"/>
<circle cx="97.50" cy="339.40" r="2.7" fill="none" stroke="#6464ff" stroke-width="0.8"/>
<circle cx="105.90" cy="331.50" r="2.7" fill="none" stroke="#6464ff" stroke-width="0.8"/>
<circle cx="113.90" cy="358.60" r="2.7" fill="none" stroke="#6464ff" stroke-width="0.8"/>
<circle cx="122.20" cy="379.20" r="2.7" fill="none" stroke="#6464ff" stroke-width="0.8"/>
<circle cx="130.20" cy="363.10" r="2.7" fill="none" stroke="#6464ff" stroke-width="0.8"/>
<circle cx="138.20" cy="371.80" r="2.7" fill="none" stroke="#6464ff" stroke-width="0.8"/>
<circle cx="146.70" cy="383.50" r="2.7" fill="none" stroke="#6464ff" stroke-width="0.8"/>
<circle cx="150.50" cy="379.70" r="2.7" fill="none" stroke="#6464ff" stroke-width="0.8"/>
<circle cx="159.20" cy="323.50" r="2.7" fill="none" stroke="#6464ff" stroke-width="0.8"/>
<circle cx="162.90" cy="286.60" r="2.7" fill="none" stroke="#6464ff" stroke-width="0.8"/>
<circle cx="166.90" cy="278.70" r="2.7" fill="none" stroke="#6464ff" stroke-width="0.8"/>
<circle cx="171.10" cy="274.50" r="2.7" fill="none" stroke="#6464ff" stroke-width="0.8"/>
<circle cx="175.40" cy="278.70" r="2.7" fill="none" stroke="#6464ff" stroke-width="0.8"/>
<circle cx="179.60" cy="288.20" r="2.7" fill="none" stroke="#6464ff" stroke-width="0.8"/>
<circle cx="183.80" cy="295.80" r="2.7" fill="none" stroke="#6464ff" stroke-width="0.8"/>
<circle cx="188.00" cy="296.40" r="2.7" fill="none" stroke="#6464ff" stroke-width="0.8"/>
<circle cx="192.00" cy="302.00" r="2.7" fill="none" stroke="#6464ff" stroke-width="0.8"/>
<circle cx="196.20" cy="291.60" r="2.7" fill="none" stroke="#6464ff" stroke-width="0.8"/>
<circle cx="200.20" cy="288.20" r="2.7" fill="none" stroke="#6464ff" stroke-width="0.8"/>
<circle cx="204.70" cy="281.80" r="2.7" fill="none" stroke="#6464ff" stroke-width="0.8"/>
<circle cx="208.50" cy="293.80" r="2.7" fill="none" stroke="#6464ff" stroke-width="0.8"/>
<circle cx="212.30" cy="320.20" r="2.7" fill="none" stroke="#6464ff" stroke-width="0.8"/>
<circle cx="216.60" cy="299.70" r="2.7" fill="none" stroke="#6464ff" stroke-width="0.8"/>
<circle cx="220.80" cy="303.30" r="2.7" fill="none" stroke="#6464ff" stroke-width="0.8"/>
<circle cx="224.80" cy="303.30" r="2.7" fill="none" stroke="#6464ff" stroke-width="0.8"/>
<circle cx="229.00" cy="308.60" r="2.7" fill="none" stroke="#6464ff" stroke-width="0.8"/>
<circle cx="233.00" cy="338.10" r="2.7" fill="none" stroke="#6464ff" stroke-width="0.8"/>
<circle cx="237.20" cy="352.60" r="2.7" fill="none" stroke="#6464ff" stroke-width="0.8"/>
<circle cx="245.40" cy="374.90" r="2.7" fill="none" stroke="#6464ff" stroke-width="0.8"/>
<circle cx="249.60" cy="370.10" r="2.7" fill="none" stroke="#6464ff" stroke-width="0.8"/>
<circle cx="253.40" cy="363.70" r="2.7" fill="none" stroke="#6464ff" stroke-width="0.8"/>
<circle cx="257.60" cy="362.90" r="2.7" fill="none" stroke="#6464ff" stroke-width="0.8"/>
<circle cx="261.90" cy="353.40" r="2.7" fill="none" stroke="#6464ff" stroke-width="0.8"/>
<circle cx="266.10" cy="377.00" r="2.7" fill="none" stroke="#6464ff" stroke-width="0.8"/>
<circle cx="269.80" cy="281.60" r="2.7" fill="none" stroke="#6464ff" stroke-width="0.8"/>
<circle cx="274.00" cy="295.90" r="2.7" fill="none" stroke="#6464ff" stroke-width="0.8"/>
<circle cx="278.20" cy="285.40" r="2.7" fill="none" stroke="#6464ff" stroke-width="0.8"/>
<circle cx="282.50" cy="278.60" r="2.7" fill="none" stroke="#6464ff" stroke-width="0.8"/>
<circle cx="286.70" cy="291.30" r="2.7" fill="none" stroke="#6464ff" stroke-width="0.8"/>
<circle cx="290.50" cy="280.50" r="2.7" fill="none" stroke="#6464ff" stroke-width="0.8"/>
<circle cx="294.60" cy="276.10" r="2.7" fill="none" stroke="#6464ff" stroke-width="0.8"/>
<circle cx="298.60" cy="272.40" r="2.7" fill="none" stroke="#6464ff" stroke-width="0.8"/>
<circle cx="303.10" cy="268.50" r="2.7" fill="none" stroke="#6464ff" stroke-width="0.8"/>
<circle cx="307.30" cy="267.40" r="2.7" fill="none" stroke="#6464ff" stroke-width="0.8"/>
<circle cx="311.60" cy="264.50" r="2.7" fill="none" stroke="#6464ff" stroke-width="0.8"/>
<circle cx="315.40" cy="278.80" r="2.7" fill="none" stroke="#6464ff" stroke-width="0.8"/>
<circle cx="320.00" cy="267.20" r="2.7" fill="none" stroke="#6464ff" stroke-width="0.8"/>
<circle cx="323.80" cy="277.40" r="2.7" fill="none" stroke="#6464ff" stroke-width="0.8"/>
<circle cx="328.00" cy="291.70" r="2.7" fill="none" stroke="#6464ff" stroke-width="0.8"/>
<circle cx="332.30" cy="294.00" r="2.7" fill="none" stroke="#6464ff" stroke-width="0.8"/>
<circle cx="336.10" cy="299.50" r="2.7" fill="none" stroke="#6464ff" stroke-width="0.8"/>
<circle cx="340.30" cy="309.50" r="2.7" fill="none" stroke="#6464ff" stroke-width="0.8"/>
<circle cx="344.10" cy="305.90" r="2.7" fill="none" stroke="#6464ff" stroke-width="0.8"/>
<circle cx="348.30" cy="292.80" r="2.7" fill="none" stroke="#6464ff" stroke-width="0.8"/>
<circle cx="352.50" cy="315.50" r="2.7" fill="none" stroke="#6464ff" stroke-width="0.8"/>
<circle cx="356.80" cy="306.30" r="2.7" fill="none" stroke="#6464ff" stroke-width="0.8"/>
<circle cx="360.60" cy="328.50" r="2.7" fill="none" stroke="#6464ff" stroke-width="0.8"/>
<circle cx="364.80" cy="346.10" r="2.7" fill="none" stroke="#6464ff" stroke-width="0.8"/>
<circle cx="369.00" cy="342.30" r="2.7" fill="none" stroke="#6464ff" stroke-width="0.8"/>
<circle cx="372.80" cy="297.50" r="2.7" fill="none" stroke="#6464ff" stroke-width="0.8"/>
<circle cx="377.00" cy="300.00" r="2.7" fill="none" stroke="#6464ff" stroke-width="0.8"/>
<circle cx="381.30" cy="304.90" r="2.7" fill="none" stroke="#6464ff" stroke-width="0.8"/>
<circle cx="385.30" cy="339.10" r="2.7" fill="none" stroke="#6464ff" stroke-width="0.8"/>
<circle cx="389.50" cy="345.60" r="2.7" fill="none" stroke="#6464ff" stroke-width="0.8"/>
<circle cx="393.30" cy="366.60" r="2.7" fill="none" stroke="#6464ff" stroke-width="0.8"/>
<circle cx="398.00" cy="346.50" r="2.7" fill="none" stroke="#6464ff" stroke-width="0.8"/>
<circle cx="401.80" cy="324.50" r="2.7" fill="none" stroke="#6464ff" stroke-width="0.8"/>
<circle cx="406.00" cy="319.20" r="2.7" fill="none" stroke="#6464ff" stroke-width="0.8"/>
<circle cx="409.80" cy="303.20" r="2.7" fill="none" stroke="#6464ff" stroke-width="0.8"/>
<circle cx="414.00" cy="300.60" r="2.7" fill="none" stroke="#6464ff" stroke-width="0.8"/>
<circle cx="418.00" cy="291.10" r="2.7" fill="none" stroke="#6464ff" stroke-width="0.8"/>
<circle cx="422.30" cy="288.00" r="2.7" fill="none" stroke="#6464ff" stroke-width="0.8"/>
<circle cx="426.10" cy="273.20" r="2.7" fill="none" stroke="#6464ff" stroke-width="0.8"/>
<circle cx="430.30" cy="273.80" r="2.7" fill="none" stroke="#6464ff" stroke-width="0.8"/>
<circle cx="434.50" cy="275.90" r="2.7" fill="none" stroke="#6464ff" stroke-width="0.8"/>
<circle cx="439.20" cy="273.80" r="2.7" fill="none" stroke="#6464ff" stroke-width="0.8"/>
<circle cx="443.00" cy="285.80" r="2.7" fill="none" stroke="#6464ff" stroke-width="0.8"/>
<circle cx="447.20" cy="283.10" r="2.7" fill="none" stroke="#6464ff" stroke-width="0.8"/>
<circle cx="451.00" cy="294.30" r="2.7" fill="none" stroke="#6464ff" stroke-width="0.8"/>
<circle cx="455.20" cy="300.20" r="2.7" fill="none" stroke="#6464ff" stroke-width="0.8"/>
<circle cx="459.40" cy="300.20" r="2.7" fill="none" stroke="#6464ff" stroke-width="0.8"/>
<circle cx="463.80" cy="303.00" r="2.7" fill="none" stroke="#6464ff" stroke-width="0.8"/>
<circle cx="467.80" cy="319.60" r="2.7" fill="none" stroke="#6464ff" stroke-width="0.8"/>
<circle cx="472.00" cy="318.60" r="2.7" fill="none" stroke="#6464ff" stroke-width="0.8"/>
<circle cx="475.80" cy="335.90" r="2.7" fill="none" stroke="#6464ff" stroke-width="0.8"/>
<circle cx="480.10" cy="334.40" r="2.7" fill="none" stroke="#6464ff" stroke-width="0.8"/>
<circle cx="484.30" cy="319.60" r="2.7" fill="none" stroke="#6464ff" stroke-width="0.8"/>
<circle cx="488.10" cy="362.90" r="2.7" fill="none" stroke="#6464ff" stroke-width="0.8"/>
<circle cx="492.30" cy="341.90" r="2.7" fill="none" stroke="#6464ff" stroke-width="0.8"/>
<circle cx="496.60" cy="308.40" r="2.7" fill="none" stroke="#6464ff" stroke-width="0.8"/>
<circle cx="500.60" cy="340.40" r="2.7" fill="none" stroke="#6464ff" stroke-width="0.8"/>
<circle cx="504.80" cy="295.30" r="2.7" fill="none" stroke="#6464ff" stroke-width="0.8"/>
<circle cx="509.00" cy="290.00" r="2.7" fill="none" stroke="#6464ff" stroke-width="0.8"/>
<circle cx="513.20" cy="313.30" r="2.7" fill="none" stroke="#6464ff" stroke-width="0.8"/>
<circle cx="517.00" cy="355.50" r="2.7" fill="none" stroke="#6464ff" stroke-width="0.8"/>
<circle cx="520.80" cy="296.40" r="2.7" fill="none" stroke="#6464ff" stroke-width="0.8"/>
<circle cx="525.10" cy="298.90" r="2.7" fill="none" stroke="#6464ff" stroke-width="0.8"/>
<circle cx="529.30" cy="299.50" r="2.7" fill="none" stroke="#6464ff" stroke-width="0.8"/>
<circle cx="533.70" cy="286.50" r="2.7" fill="none" stroke="#6464ff" stroke-width="0.8"/>
<circle cx="537.40" cy="277.40" r="2.7" fill="none" stroke="#6464ff" stroke-width="0.8"/>
<circle cx="542.10" cy="277.00" r="2.7" fill="none" stroke="#6464ff" stroke-width="0.8"/>
<circle cx="545.80" cy="271.10" r="2.7" fill="none" stroke="#6464ff" stroke-width="0.8"/>
<circle cx="550.30" cy="270.80" r="2.7" fill="none" stroke="#6464ff" stroke-width="0.8"/>
<circle cx="554.30" cy="268.40" r="2.7" fill="none" stroke="#6464ff" stroke-width="0.8"/>
<circle cx="562.20" cy="274.90" r="2.7" fill="none" stroke="#6464ff" stroke-width="0.8"/>
<circle cx="566.40" cy="275.10" r="2.7" fill="none" stroke="#6464ff" stroke-width="0.8"/>
<circle cx="570.70" cy="277.00" r="2.7" fill="none" stroke="#6464ff" stroke-width="0.8"/>
<circle cx="574.90" cy="291.40" r="2.7" fill="none" stroke="#6464ff" stroke-width="0.8"/>
<circle cx="579.10" cy="299.90" r="2.7" fill="none" stroke="#6464ff" stroke-width="0.8"/>
<circle cx="583.30" cy="301.30" r="2.7" fill="none" stroke="#6464ff" stroke-width="0.8"/>
<circle cx="586.90" cy="318.30" r="2.7" fill="none" stroke="#6464ff" stroke-width="0.8"/>
<circle cx="591.20" cy="325.20" r="2.7" fill="none" stroke="#6464ff" stroke-width="0.8"/>
<circle cx="595.30" cy="324.70" r="2.7" fill="none" stroke="#6464ff" stroke-width="0.8"/>
<circle cx="599.30" cy="315.80" r="2.7" fill="none" stroke="#6464ff" stroke-width="0.8"/>
<circle cx="603.40" cy="331.50" r="2.7" fill="none" stroke="#6464ff" stroke-width="0.8"/>
<circle cx="607.40" cy="363.20" r="2.7" fill="none" stroke="#6464ff" stroke-width="0.8"/>
<circle cx="81.20" cy="297.30" r="2.6" fill="#00ff00" stroke="#3c3cff" stroke-width="0.45"/>
<circle cx="89.40" cy="328.90" r="2.6" fill="#00ff00" stroke="#3c3cff" stroke-width="0.45"/>
<circle cx="97.50" cy="350.00" r="2.6" fill="#00ff00" stroke="#3c3cff" stroke-width="0.45"/>
<circle cx="105.90" cy="345.70" r="2.6" fill="#00ff00" stroke="#3c3cff" stroke-width="0.45"/>
<circle cx="113.90" cy="376.10" r="2.6" fill="#00ff00" stroke="#3c3cff" stroke-width="0.45"/>
<circle cx="122.20" cy="392.30" r="2.6" fill="#00ff00" stroke="#3c3cff" stroke-width="0.45"/>
<circle cx="130.20" cy="374.00" r="2.6" fill="#00ff00" stroke="#3c3cff" stroke-width="0.45"/>
<circle cx="138.20" cy="383.50" r="2.6" fill="#00ff00" stroke="#3c3cff" stroke-width="0.45"/>
<circle cx="146.70" cy="391.90" r="2.6" fill="#00ff00" stroke="#3c3cff" stroke-width="0.45"/>
<circle cx="150.50" cy="379.20" r="2.6" fill="#00ff00" stroke="#3c3cff" stroke-width="0.45"/>
<circle cx="159.00" cy="336.50" r="2.6" fill="#00ff00" stroke="#3c3cff" stroke-width="0.45"/>
<circle cx="162.90" cy="291.80" r="2.6" fill="#00ff00" stroke="#3c3cff" stroke-width="0.45"/>
<circle cx="171.10" cy="276.10" r="2.6" fill="#00ff00" stroke="#3c3cff" stroke-width="0.45"/>
<circle cx="175.40" cy="286.30" r="2.6" fill="#00ff00" stroke="#3c3cff" stroke-width="0.45"/>
<circle cx="179.40" cy="299.20" r="2.6" fill="#00ff00" stroke="#3c3cff" stroke-width="0.45"/>
<circle cx="183.80" cy="309.00" r="2.6" fill="#00ff00" stroke="#3c3cff" stroke-width="0.45"/>
<circle cx="188.00" cy="307.50" r="2.6" fill="#00ff00" stroke="#3c3cff" stroke-width="0.45"/>
<circle cx="192.00" cy="310.10" r="2.6" fill="#00ff00" stroke="#3c3cff" stroke-width="0.45"/>
<circle cx="196.20" cy="309.80" r="2.6" fill="#00ff00" stroke="#3c3cff" stroke-width="0.45"/>
<circle cx="200.20" cy="303.20" r="2.6" fill="#00ff00" stroke="#3c3cff" stroke-width="0.45"/>
<circle cx="204.70" cy="294.40" r="2.6" fill="#00ff00" stroke="#3c3cff" stroke-width="0.45"/>
<circle cx="208.50" cy="299.70" r="2.6" fill="#00ff00" stroke="#3c3cff" stroke-width="0.45"/>
<circle cx="212.30" cy="316.00" r="2.6" fill="#00ff00" stroke="#3c3cff" stroke-width="0.45"/>
<circle cx="216.60" cy="314.30" r="2.6" fill="#00ff00" stroke="#3c3cff" stroke-width="0.45"/>
<circle cx="220.80" cy="320.20" r="2.6" fill="#00ff00" stroke="#3c3cff" stroke-width="0.45"/>
<circle cx="224.80" cy="314.50" r="2.6" fill="#00ff00" stroke="#3c3cff" stroke-width="0.45"/>
<circle cx="229.00" cy="324.30" r="2.6" fill="#00ff00" stroke="#3c3cff" stroke-width="0.45"/>
<circle cx="233.00" cy="343.30" r="2.6" fill="#00ff00" stroke="#3c3cff" stroke-width="0.45"/>
<circle cx="237.20" cy="345.50" r="2.6" fill="#00ff00" stroke="#3c3cff" stroke-width="0.45"/>
<circle cx="245.40" cy="392.90" r="2.6" fill="#00ff00" stroke="#3c3cff" stroke-width="0.45"/>
<circle cx="249.60" cy="376.40" r="2.6" fill="#00ff00" stroke="#3c3cff" stroke-width="0.45"/>
<circle cx="253.40" cy="378.10" r="2.6" fill="#00ff00" stroke="#3c3cff" stroke-width="0.45"/>
<circle cx="257.60" cy="370.10" r="2.6" fill="#00ff00" stroke="#3c3cff" stroke-width="0.45"/>
<circle cx="261.90" cy="359.50" r="2.6" fill="#00ff00" stroke="#3c3cff" stroke-width="0.45"/>
<circle cx="266.10" cy="365.00" r="2.6" fill="#00ff00" stroke="#3c3cff" stroke-width="0.45"/>
<circle cx="269.80" cy="270.60" r="2.6" fill="#00ff00" stroke="#3c3cff" stroke-width="0.45"/>
<circle cx="274.00" cy="284.30" r="2.6" fill="#00ff00" stroke="#3c3cff" stroke-width="0.45"/>
<circle cx="278.20" cy="272.30" r="2.6" fill="#00ff00" stroke="#3c3cff" stroke-width="0.45"/>
<circle cx="282.50" cy="263.20" r="2.6" fill="#00ff00" stroke="#3c3cff" stroke-width="0.45"/>
<circle cx="286.70" cy="285.40" r="2.6" fill="#00ff00" stroke="#3c3cff" stroke-width="0.45"/>
<circle cx="290.50" cy="271.60" r="2.6" fill="#00ff00" stroke="#3c3cff" stroke-width="0.45"/>
<circle cx="294.60" cy="263.00" r="2.6" fill="#00ff00" stroke="#3c3cff" stroke-width="0.45"/>
<circle cx="298.60" cy="262.30" r="2.6" fill="#00ff00" stroke="#3c3cff" stroke-width="0.45"/>
<circle cx="303.10" cy="263.00" r="2.6" fill="#00ff00" stroke="#3c3cff" stroke-width="0.45"/>
<circle cx="307.30" cy="261.70" r="2.6" fill="#00ff00" stroke="#3c3cff" stroke-width="0.45"/>
<circle cx="311.60" cy="262.10" r="2.6" fill="#00ff00" stroke="#3c3cff" stroke-width="0.45"/>
<circle cx="315.80" cy="264.70" r="2.6" fill="#00ff00" stroke="#3c3cff" stroke-width="0.45"/>
<circle cx="320.00" cy="270.00" r="2.6" fill="#00ff00" stroke="#3c3cff" stroke-width="0.45"/>
<circle cx="323.80" cy="277.40" r="2.6" fill="#00ff00" stroke="#3c3cff" stroke-width="0.45"/>
<circle cx="328.00" cy="290.00" r="2.6" fill="#00ff00" stroke="#3c3cff" stroke-width="0.45"/>
<circle cx="332.30" cy="293.20" r="2.6" fill="#00ff00" stroke="#3c3cff" stroke-width="0.45"/>
<circle cx="336.10" cy="305.20" r="2.6" fill="#00ff00" stroke="#3c3cff" stroke-width="0.45"/>
<circle cx="340.30" cy="317.50" r="2.6" fill="#00ff00" stroke="#3c3cff" stroke-width="0.45"/>
<circle cx="344.10" cy="313.30" r="2.6" fill="#00ff00" stroke="#3c3cff" stroke-width="0.45"/>
<circle cx="348.30" cy="296.00" r="2.6" fill="#00ff00" stroke="#3c3cff" stroke-width="0.45"/>
<circle cx="352.50" cy="314.80" r="2.6" fill="#00ff00" stroke="#3c3cff" stroke-width="0.45"/>
<circle cx="504.80" cy="289.00" r="2.6" fill="#00ff00" stroke="#3c3cff" stroke-width="0.45"/>
<circle cx="509.00" cy="284.10" r="2.6" fill="#00ff00" stroke="#3c3cff" stroke-width="0.45"/>
<circle cx="513.20" cy="310.50" r="2.6" fill="#00ff00" stroke="#3c3cff" stroke-width="0.45"/>
<circle cx="520.80" cy="289.00" r="2.6" fill="#00ff00" stroke="#3c3cff" stroke-width="0.45"/>
<circle cx="525.10" cy="295.30" r="2.6" fill="#00ff00" stroke="#3c3cff" stroke-width="0.45"/>
<circle cx="529.30" cy="291.70" r="2.6" fill="#00ff00" stroke="#3c3cff" stroke-width="0.45"/>
<circle cx="533.20" cy="268.50" r="2.6" fill="#00ff00" stroke="#3c3cff" stroke-width="0.45"/>
<circle cx="537.60" cy="266.40" r="2.6" fill="#00ff00" stroke="#3c3cff" stroke-width="0.45"/>
<circle cx="541.60" cy="268.50" r="2.6" fill="#00ff00" stroke="#3c3cff" stroke-width="0.45"/>
<circle cx="545.80" cy="264.70" r="2.6" fill="#00ff00" stroke="#3c3cff" stroke-width="0.45"/>
<circle cx="550.10" cy="266.40" r="2.6" fill="#00ff00" stroke="#3c3cff" stroke-width="0.45"/>
<circle cx="554.10" cy="262.20" r="2.6" fill="#00ff00" stroke="#3c3cff" stroke-width="0.45"/>
<circle cx="562.70" cy="265.00" r="2.6" fill="#00ff00" stroke="#3c3cff" stroke-width="0.45"/>
<circle cx="566.80" cy="267.10" r="2.6" fill="#00ff00" stroke="#3c3cff" stroke-width="0.45"/>
<circle cx="570.70" cy="274.50" r="2.6" fill="#00ff00" stroke="#3c3cff" stroke-width="0.45"/>
<circle cx="574.90" cy="276.90" r="2.6" fill="#00ff00" stroke="#3c3cff" stroke-width="0.45"/>
<circle cx="579.10" cy="286.50" r="2.6" fill="#00ff00" stroke="#3c3cff" stroke-width="0.45"/>
<circle cx="586.90" cy="314.50" r="2.6" fill="#00ff00" stroke="#3c3cff" stroke-width="0.45"/>
<circle cx="591.20" cy="325.40" r="2.6" fill="#00ff00" stroke="#3c3cff" stroke-width="0.45"/>
<circle cx="595.30" cy="333.00" r="2.6" fill="#00ff00" stroke="#3c3cff" stroke-width="0.45"/>
<circle cx="599.30" cy="327.20" r="2.6" fill="#00ff00" stroke="#3c3cff" stroke-width="0.45"/>
<circle cx="603.40" cy="339.90" r="2.6" fill="#00ff00" stroke="#3c3cff" stroke-width="0.45"/>
<circle cx="607.40" cy="355.80" r="2.6" fill="#00ff00" stroke="#3c3cff" stroke-width="0.45"/>
<line x1="57.50" y1="251.00" x2="620.50" y2="251.00" stroke="#3a3a3a" stroke-width="1.3"/>
<line x1="57.50" y1="425.20" x2="620.50" y2="425.20" stroke="#262626" stroke-width="1.3"/>
<line x1="57.50" y1="250.40" x2="57.50" y2="425.80" stroke="#000" stroke-width="1.3"/>
<line x1="620.50" y1="250.40" x2="620.50" y2="425.80" stroke="#7f7f7f" stroke-width="1.3"/>
<text x="57.50" y="442.80" font-size="13.7" text-anchor="middle" fill="#3a3a3a" stroke="#3a3a3a" textLength="28.5" lengthAdjust="spacingAndGlyphs">2016</text>
<line x1="120.06" y1="425.20" x2="120.06" y2="419.60" stroke="#262626" stroke-width="1.3"/>
<line x1="120.06" y1="251.00" x2="120.06" y2="256.60" stroke="#262626" stroke-width="1.3"/>
<text x="120.06" y="442.80" font-size="13.7" text-anchor="middle" fill="#3a3a3a" stroke="#3a3a3a" textLength="39.2" lengthAdjust="spacingAndGlyphs">2016.5</text>
<line x1="182.61" y1="425.20" x2="182.61" y2="419.60" stroke="#262626" stroke-width="1.3"/>
<line x1="182.61" y1="251.00" x2="182.61" y2="256.60" stroke="#262626" stroke-width="1.3"/>
<text x="182.61" y="442.80" font-size="13.7" text-anchor="middle" fill="#3a3a3a" stroke="#3a3a3a" textLength="28.5" lengthAdjust="spacingAndGlyphs">2017</text>
<line x1="245.17" y1="425.20" x2="245.17" y2="419.60" stroke="#262626" stroke-width="1.3"/>
<line x1="245.17" y1="251.00" x2="245.17" y2="256.60" stroke="#262626" stroke-width="1.3"/>
<text x="245.17" y="442.80" font-size="13.7" text-anchor="middle" fill="#3a3a3a" stroke="#3a3a3a" textLength="39.2" lengthAdjust="spacingAndGlyphs">2017.5</text>
<line x1="307.72" y1="425.20" x2="307.72" y2="419.60" stroke="#262626" stroke-width="1.3"/>
<line x1="307.72" y1="251.00" x2="307.72" y2="256.60" stroke="#262626" stroke-width="1.3"/>
<text x="307.72" y="442.80" font-size="13.7" text-anchor="middle" fill="#3a3a3a" stroke="#3a3a3a" textLength="28.5" lengthAdjust="spacingAndGlyphs">2018</text>
<line x1="370.28" y1="425.20" x2="370.28" y2="419.60" stroke="#262626" stroke-width="1.3"/>
<line x1="370.28" y1="251.00" x2="370.28" y2="256.60" stroke="#262626" stroke-width="1.3"/>
<text x="370.28" y="442.80" font-size="13.7" text-anchor="middle" fill="#3a3a3a" stroke="#3a3a3a" textLength="39.2" lengthAdjust="spacingAndGlyphs">2018.5</text>
<line x1="432.83" y1="425.20" x2="432.83" y2="419.60" stroke="#262626" stroke-width="1.3"/>
<line x1="432.83" y1="251.00" x2="432.83" y2="256.60" stroke="#262626" stroke-width="1.3"/>
<text x="432.83" y="442.80" font-size="13.7" text-anchor="middle" fill="#3a3a3a" stroke="#3a3a3a" textLength="28.5" lengthAdjust="spacingAndGlyphs">2019</text>
<line x1="495.39" y1="425.20" x2="495.39" y2="419.60" stroke="#262626" stroke-width="1.3"/>
<line x1="495.39" y1="251.00" x2="495.39" y2="256.60" stroke="#262626" stroke-width="1.3"/>
<text x="495.39" y="442.80" font-size="13.7" text-anchor="middle" fill="#3a3a3a" stroke="#3a3a3a" textLength="39.2" lengthAdjust="spacingAndGlyphs">2019.5</text>
<line x1="557.94" y1="425.20" x2="557.94" y2="419.60" stroke="#262626" stroke-width="1.3"/>
<line x1="557.94" y1="251.00" x2="557.94" y2="256.60" stroke="#262626" stroke-width="1.3"/>
<text x="557.94" y="442.80" font-size="13.7" text-anchor="middle" fill="#3a3a3a" stroke="#3a3a3a" textLength="28.5" lengthAdjust="spacingAndGlyphs">2020</text>
<text x="620.50" y="442.80" font-size="13.7" text-anchor="middle" fill="#3a3a3a" stroke="#3a3a3a" textLength="39.2" lengthAdjust="spacingAndGlyphs">2020.5</text>
<text x="52.20" y="429.00" font-size="13.7" text-anchor="end" fill="#1a1a1a" stroke="#1a1a1a" textLength="14.3" lengthAdjust="spacingAndGlyphs">45</text>
<line x1="57.50" y1="385.61" x2="63.10" y2="385.61" stroke="#000" stroke-width="1.3"/>
<text x="52.20" y="389.41" font-size="13.7" text-anchor="end" fill="#1a1a1a" stroke="#1a1a1a" textLength="14.3" lengthAdjust="spacingAndGlyphs">50</text>
<line x1="57.50" y1="346.02" x2="63.10" y2="346.02" stroke="#000" stroke-width="1.3"/>
<text x="52.20" y="349.82" font-size="13.7" text-anchor="end" fill="#1a1a1a" stroke="#1a1a1a" textLength="14.3" lengthAdjust="spacingAndGlyphs">55</text>
<line x1="57.50" y1="306.43" x2="63.10" y2="306.43" stroke="#000" stroke-width="1.3"/>
<text x="52.20" y="310.23" font-size="13.7" text-anchor="end" fill="#1a1a1a" stroke="#1a1a1a" textLength="14.3" lengthAdjust="spacingAndGlyphs">60</text>
<line x1="57.50" y1="266.84" x2="63.10" y2="266.84" stroke="#000" stroke-width="1.3"/>
<text x="52.20" y="270.64" font-size="13.7" text-anchor="end" fill="#1a1a1a" stroke="#1a1a1a" textLength="14.3" lengthAdjust="spacingAndGlyphs">65</text>
<text x="625.80" y="428.80" font-size="13.7" text-anchor="start" fill="#8a8a8a" stroke="#8a8a8a" textLength="21.4" lengthAdjust="spacingAndGlyphs">300</text>
<line x1="620.50" y1="370.76" x2="614.90" y2="370.76" stroke="#7f7f7f" stroke-width="1.3"/>
<text x="625.80" y="374.36" font-size="13.7" text-anchor="start" fill="#8a8a8a" stroke="#8a8a8a" textLength="21.4" lengthAdjust="spacingAndGlyphs">310</text>
<line x1="620.50" y1="316.32" x2="614.90" y2="316.32" stroke="#7f7f7f" stroke-width="1.3"/>
<text x="625.80" y="319.93" font-size="13.7" text-anchor="start" fill="#8a8a8a" stroke="#8a8a8a" textLength="21.4" lengthAdjust="spacingAndGlyphs">320</text>
<line x1="620.50" y1="261.89" x2="614.90" y2="261.89" stroke="#7f7f7f" stroke-width="1.3"/>
<text x="625.80" y="265.49" font-size="13.7" text-anchor="start" fill="#8a8a8a" stroke="#8a8a8a" textLength="21.4" lengthAdjust="spacingAndGlyphs">330</text>
<text transform="translate(29.00,373.00) rotate(-90)" font-size="14.2" text-anchor="start" fill="#3a3a3a" stroke="#3a3a3a" textLength="57.0" lengthAdjust="spacingAndGlyphs">Area (km</text>
<text transform="translate(21.40,313.60) rotate(-90)" font-size="10.8" text-anchor="start" fill="#3a3a3a" stroke="#3a3a3a" textLength="5.6" lengthAdjust="spacingAndGlyphs">2</text>
<text transform="translate(29.00,307.50) rotate(-90)" font-size="14.2" text-anchor="start" fill="#3a3a3a" stroke="#3a3a3a" textLength="4.2" lengthAdjust="spacingAndGlyphs">)</text>
<text transform="translate(659.60,337.75) rotate(-90)" font-size="14.5" text-anchor="middle" fill="#8a8a8a" stroke="#8a8a8a" textLength="142.8" lengthAdjust="spacingAndGlyphs">In situ water level (m)</text>
<text x="359.40" y="458.70" font-size="14.5" text-anchor="middle" fill="#3a3a3a" stroke="#3a3a3a" textLength="83.8" lengthAdjust="spacingAndGlyphs">Demical Year</text>
<text x="64.00" y="267.60" font-size="13.4" text-anchor="start" fill="#3a3a3a" stroke="#3a3a3a" textLength="13.6" lengthAdjust="spacingAndGlyphs">(c)</text>
<rect x="385.8" y="394.8" width="225" height="17.4" fill="#fff" stroke="#b0b0b0" stroke-width="0.9"/>
<line x1="385.80" y1="412.20" x2="610.80" y2="412.20" stroke="#707070" stroke-width="0.9"/>
<line x1="388.50" y1="403.50" x2="411.70" y2="403.50" stroke="#5898d2" stroke-width="0.8"/>
<circle cx="400.40" cy="403.50" r="2.7" fill="#fff" stroke="#6464ff" stroke-width="0.8"/>
<text x="414.40" y="407.40" font-size="12" text-anchor="start" fill="#3a3a3a" stroke="#3a3a3a" textLength="69.1" lengthAdjust="spacingAndGlyphs">Satellite SWE</text>
<circle cx="501.00" cy="403.30" r="2.6" fill="#00ff00" stroke="#3c3cff" stroke-width="0.45"/>
<text x="515.50" y="407.40" font-size="12" text-anchor="start" fill="#3a3a3a" stroke="#3a3a3a" textLength="92.9" lengthAdjust="spacingAndGlyphs">In situ water level</text>
<circle cx="740.70" cy="415.80" r="2.6" fill="#ff00ff" stroke="none" stroke-width="0"/>
<circle cx="749.40" cy="416.80" r="2.6" fill="#ff00ff" stroke="none" stroke-width="0"/>
<circle cx="766.30" cy="393.00" r="2.6" fill="#ff00ff" stroke="none" stroke-width="0"/>
<circle cx="782.20" cy="379.30" r="2.6" fill="#ff00ff" stroke="none" stroke-width="0"/>
<circle cx="796.70" cy="362.40" r="2.6" fill="#ff00ff" stroke="none" stroke-width="0"/>
<circle cx="803.30" cy="368.20" r="2.6" fill="#ff00ff" stroke="none" stroke-width="0"/>
<circle cx="803.60" cy="356.30" r="2.6" fill="#ff00ff" stroke="none" stroke-width="0"/>
<circle cx="806.20" cy="346.30" r="2.6" fill="#ff00ff" stroke="none" stroke-width="0"/>
<circle cx="817.20" cy="338.00" r="2.6" fill="#ff00ff" stroke="none" stroke-width="0"/>
<circle cx="824.00" cy="335.40" r="2.6" fill="#ff00ff" stroke="none" stroke-width="0"/>
<circle cx="828.60" cy="329.80" r="2.6" fill="#ff00ff" stroke="none" stroke-width="0"/>
<circle cx="826.60" cy="321.50" r="2.6" fill="#ff00ff" stroke="none" stroke-width="0"/>
<circle cx="834.20" cy="306.20" r="2.6" fill="#ff00ff" stroke="none" stroke-width="0"/>
<circle cx="841.80" cy="306.20" r="2.6" fill="#ff00ff" stroke="none" stroke-width="0"/>
<circle cx="845.10" cy="309.00" r="2.6" fill="#ff00ff" stroke="none" stroke-width="0"/>
<circle cx="850.70" cy="288.70" r="2.6" fill="#ff00ff" stroke="none" stroke-width="0"/>
<circle cx="855.00" cy="296.10" r="2.6" fill="#ff00ff" stroke="none" stroke-width="0"/>
<circle cx="857.50" cy="300.70" r="2.6" fill="#ff00ff" stroke="none" stroke-width="0"/>
<circle cx="863.90" cy="288.70" r="2.6" fill="#ff00ff" stroke="none" stroke-width="0"/>
<circle cx="874.00" cy="277.30" r="2.6" fill="#ff00ff" stroke="none" stroke-width="0"/>
<circle cx="873.50" cy="298.10" r="2.6" fill="#ff00ff" stroke="none" stroke-width="0"/>
<circle cx="876.80" cy="320.20" r="2.6" fill="#ff00ff" stroke="none" stroke-width="0"/>
<circle cx="888.70" cy="264.60" r="2.6" fill="#ff00ff" stroke="none" stroke-width="0"/>
<circle cx="889.50" cy="288.70" r="2.6" fill="#ff00ff" stroke="none" stroke-width="0"/>
<circle cx="896.80" cy="268.40" r="2.6" fill="#ff00ff" stroke="none" stroke-width="0"/>
<circle cx="900.90" cy="263.10" r="2.6" fill="#ff00ff" stroke="none" stroke-width="0"/>
<circle cx="902.20" cy="274.50" r="2.6" fill="#ff00ff" stroke="none" stroke-width="0"/>
<circle cx="905.70" cy="259.60" r="2.6" fill="#ff00ff" stroke="none" stroke-width="0"/>
<circle cx="905.70" cy="280.40" r="2.6" fill="#ff00ff" stroke="none" stroke-width="0"/>
<circle cx="912.80" cy="256.30" r="2.6" fill="#ff00ff" stroke="none" stroke-width="0"/>
<circle cx="912.80" cy="262.10" r="2.6" fill="#ff00ff" stroke="none" stroke-width="0"/>
<polyline points="740.7,425.0 743.6,421.2 746.5,417.4 749.4,413.7 752.3,410.0 755.3,406.3 758.2,402.7 761.1,399.1 764.0,395.5 766.9,392.0 769.9,388.5 772.8,385.1 775.7,381.7 778.6,378.3 781.5,374.9 784.4,371.6 787.4,368.3 790.3,365.1 793.2,361.9 796.1,358.7 799.0,355.6 801.9,352.4 804.9,349.4 807.8,346.3 810.7,343.3 813.6,340.4 816.5,337.4 819.4,334.5 822.4,331.7 825.3,328.9 828.2,326.1 831.1,323.3 834.0,320.6 836.9,317.9 839.9,315.2 842.8,312.6 845.7,310.0 848.6,307.5 851.5,305.0 854.5,302.5 857.4,300.1 860.3,297.6 863.2,295.3 866.1,292.9 869.0,290.6 872.0,288.4 874.9,286.1 877.8,283.9 880.7,281.8 883.6,279.6 886.5,277.5 889.5,275.5 892.4,273.5 895.3,271.5 898.2,269.5 901.1,267.6 904.0,265.7 907.0,263.9 909.9,262.0 912.8,260.3" fill="none" stroke="#000" stroke-width="2.0" stroke-linejoin="miter"/>
<rect x="706.70" y="253.30" width="216.40" height="171.70" fill="none" stroke="#262626" stroke-width="1.3"/>
<text x="706.70" y="442.70" font-size="13.7" text-anchor="middle" fill="#3a3a3a" stroke="#3a3a3a" textLength="21.4" lengthAdjust="spacingAndGlyphs">300</text>
<line x1="778.83" y1="425.00" x2="778.83" y2="422.80" stroke="#262626" stroke-width="1.3"/>
<line x1="778.83" y1="253.30" x2="778.83" y2="255.50" stroke="#262626" stroke-width="1.3"/>
<text x="778.83" y="442.70" font-size="13.7" text-anchor="middle" fill="#3a3a3a" stroke="#3a3a3a" textLength="21.4" lengthAdjust="spacingAndGlyphs">310</text>
<line x1="850.97" y1="425.00" x2="850.97" y2="422.80" stroke="#262626" stroke-width="1.3"/>
<line x1="850.97" y1="253.30" x2="850.97" y2="255.50" stroke="#262626" stroke-width="1.3"/>
<text x="850.97" y="442.70" font-size="13.7" text-anchor="middle" fill="#3a3a3a" stroke="#3a3a3a" textLength="21.4" lengthAdjust="spacingAndGlyphs">320</text>
<text x="923.10" y="442.70" font-size="13.7" text-anchor="middle" fill="#3a3a3a" stroke="#3a3a3a" textLength="21.4" lengthAdjust="spacingAndGlyphs">330</text>
<text x="700.60" y="428.60" font-size="13.7" text-anchor="end" fill="#3a3a3a" stroke="#3a3a3a" textLength="14.3" lengthAdjust="spacingAndGlyphs">45</text>
<line x1="706.70" y1="367.77" x2="708.90" y2="367.77" stroke="#262626" stroke-width="1.3"/>
<line x1="923.10" y1="367.77" x2="920.90" y2="367.77" stroke="#262626" stroke-width="1.3"/>
<text x="700.60" y="371.37" font-size="13.7" text-anchor="end" fill="#3a3a3a" stroke="#3a3a3a" textLength="14.3" lengthAdjust="spacingAndGlyphs">50</text>
<line x1="706.70" y1="310.53" x2="708.90" y2="310.53" stroke="#262626" stroke-width="1.3"/>
<line x1="923.10" y1="310.53" x2="920.90" y2="310.53" stroke="#262626" stroke-width="1.3"/>
<text x="700.60" y="314.13" font-size="13.7" text-anchor="end" fill="#3a3a3a" stroke="#3a3a3a" textLength="14.3" lengthAdjust="spacingAndGlyphs">55</text>
<text x="700.60" y="256.90" font-size="13.7" text-anchor="end" fill="#3a3a3a" stroke="#3a3a3a" textLength="14.3" lengthAdjust="spacingAndGlyphs">60</text>
<text transform="translate(681.70,374.20) rotate(-90)" font-size="14.2" text-anchor="start" fill="#3a3a3a" stroke="#3a3a3a" textLength="57.0" lengthAdjust="spacingAndGlyphs">Area (km</text>
<text transform="translate(674.10,314.80) rotate(-90)" font-size="10.8" text-anchor="start" fill="#3a3a3a" stroke="#3a3a3a" textLength="5.6" lengthAdjust="spacingAndGlyphs">2</text>
<text transform="translate(681.70,308.70) rotate(-90)" font-size="14.2" text-anchor="start" fill="#3a3a3a" stroke="#3a3a3a" textLength="4.2" lengthAdjust="spacingAndGlyphs">)</text>
<text x="817.25" y="459.80" font-size="14.5" text-anchor="middle" fill="#3a3a3a" stroke="#3a3a3a" textLength="100.6" lengthAdjust="spacingAndGlyphs">Water level (m)</text>
<text x="714.80" y="272.20" font-size="13.4" text-anchor="start" fill="#3a3a3a" stroke="#3a3a3a" textLength="15.5" lengthAdjust="spacingAndGlyphs">(d)</text>
<rect x="783.8" y="390.4" width="139.3" height="34.6" fill="#fff" stroke="#a8a8a8" stroke-width="0.9"/>
<line x1="923.10" y1="390.40" x2="923.10" y2="425.00" stroke="#262626" stroke-width="1.3"/>
<line x1="783.80" y1="425.00" x2="923.10" y2="425.00" stroke="#262626" stroke-width="1.3"/>
<circle cx="798.30" cy="399.40" r="2.3" fill="#ff00ff" stroke="none" stroke-width="0"/>
<text x="813.00" y="402.70" font-size="12" text-anchor="start" fill="#3a3a3a" stroke="#3a3a3a" textLength="55.8" lengthAdjust="spacingAndGlyphs">Individuals</text>
<line x1="786.80" y1="415.40" x2="810.50" y2="415.40" stroke="#000" stroke-width="2.0"/>
<text x="813.00" y="419.30" font-size="12" text-anchor="start" fill="#3a3a3a" stroke="#3a3a3a" textLength="107.0" lengthAdjust="spacingAndGlyphs">Satellite-fitted curve</text>
</svg></body></html>
